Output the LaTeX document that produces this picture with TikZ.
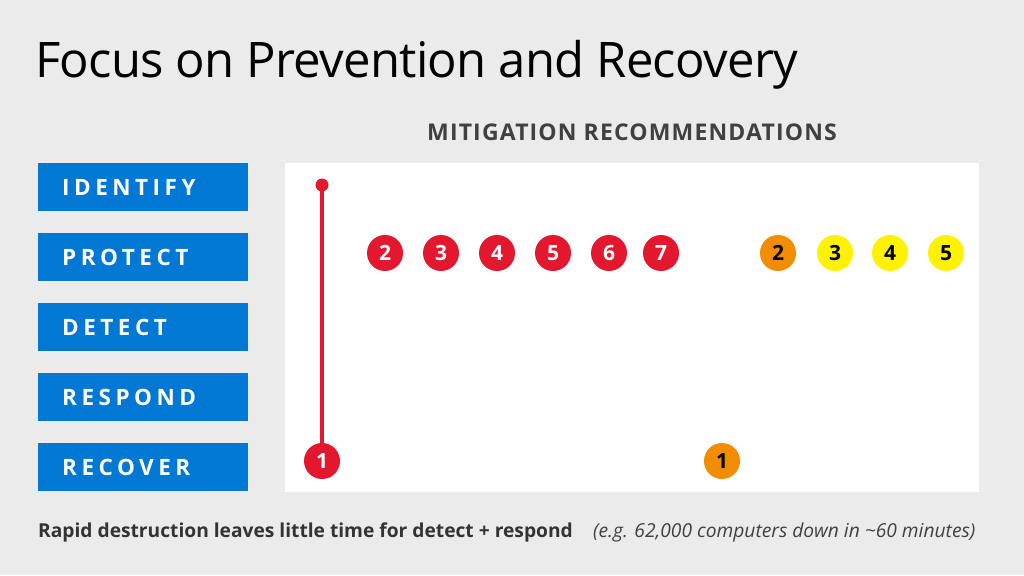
\documentclass[tikz,border=0pt]{standalone}
\usepackage{fontspec}
\setmainfont{Open Sans}
\usetikzlibrary{positioning}
\definecolor{bgray}{HTML}{EBEBEB}
\definecolor{msblue}{HTML}{0078D4}
\definecolor{mred}{HTML}{E3172D}
\definecolor{morange}{HTML}{F28C00}
\definecolor{myellow}{HTML}{FFF200}
\tikzset{
  phase/.style={fill=msblue, minimum width=210pt, minimum height=48pt, anchor=north west,
    text=white, font=\fontsize{22.5}{22}\selectfont\bfseries\addfontfeature{LetterSpace=20},
    align=left, text width=162pt, inner xsep=24pt},
  rec/.style={circle, minimum size=36pt, inner sep=0pt, font=\fontsize{21}{21}\selectfont\bfseries},
  redrec/.style={rec, fill=mred, text=white},
  orarec/.style={rec, fill=morange, text=black},
  yelrec/.style={rec, fill=myellow, text=black}
}
\begin{document}
\begin{tikzpicture}[x=1pt,y=-1pt]
\fill[bgray] (0,0) rectangle (1024,575);
\useasboundingbox (0,0) rectangle (1024,575);
\fill[white] (285,163) rectangle (979,492);

\node[anchor=base west, inner sep=0pt, font=\fontsize{49}{49}\selectfont\addfontfeature{LetterSpace=-1.5}] (title) at (35,78) {Focus on Prevention and Recovery};
\node[anchor=base, inner sep=0pt, text=black!75, font=\fontsize{23}{23}\selectfont\bfseries\addfontfeature{LetterSpace=5}] (sub) at (632,140) {MITIGATION RECOMMENDATIONS};

% phases
\node[phase] (identify) at (38,163) {IDENTIFY};
\node[phase] (protect) at (38,233) {PROTECT};
\node[phase] (detect) at (38,303) {DETECT};
\node[phase] (respond) at (38,373) {RESPOND};
\node[phase] (recover) at (38,443) {RECOVER};

% recommendations
\node[redrec] (r1) at (322,461) {1};
\coordinate (top) at (322,185);
\draw[mred, line width=3.5pt] (top) -- (r1);
\fill[mred] (top) circle (6.5pt);
\node[redrec] (r2) at (385,253) {2};
\node[redrec] (r3) at (441,253) {3};
\node[redrec] (r4) at (497,253) {4};
\node[redrec] (r5) at (553,253) {5};
\node[redrec] (r6) at (609,253) {6};
\node[redrec] (r7) at (661,253) {7};
\node[orarec] (o1) at (722,461) {1};
\node[orarec] (o2) at (778,253) {2};
\node[yelrec] (y3) at (835,253) {3};
\node[yelrec] (y4) at (890,253) {4};
\node[yelrec] (y5) at (946,253) {5};

\node[anchor=base west, inner sep=0pt, text=black!80, font=\fontsize{19.2}{19}\selectfont\bfseries] (note) at (38,537) {Rapid destruction leaves little time for detect + respond};
\node[anchor=base west, inner sep=0pt, text=black!75, font=\fontsize{19.2}{19}\selectfont\itshape] (eg) at (593,537) {(e.g. 62,000 computers down in \textasciitilde60 minutes)};
\end{tikzpicture}
\end{document}
